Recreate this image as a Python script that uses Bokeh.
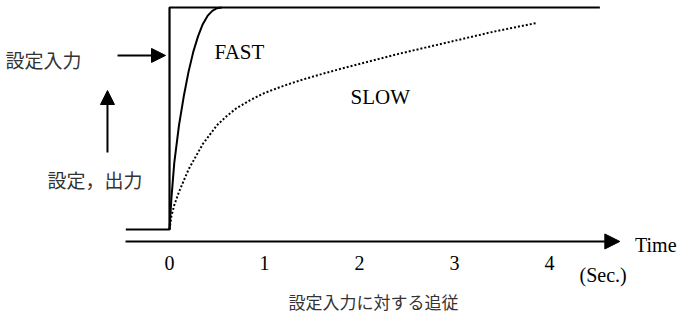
from bokeh.plotting import figure
from bokeh.models import Arrow, NormalHead, Range1d
from bokeh.core.properties import value
from bokeh.embed import file_html
from bokeh.resources import INLINE

# ---- data (time in seconds, response 0..1) ----
input_t = [-0.46, 0.0, 0.0, 4.53]
input_v = [0.0, 0.0, 1.0, 1.0]

fast_t = [0.0, 0.02, 0.05, 0.10, 0.15, 0.20, 0.25, 0.30, 0.35, 0.40, 0.45, 0.50, 0.55]
fast_v = [0.0, 0.14, 0.30, 0.47, 0.60, 0.71, 0.80, 0.87, 0.925, 0.962, 0.985, 0.997, 1.0]

slow_t = [0.0, 0.02, 0.05, 0.10, 0.20, 0.35, 0.50, 0.60, 0.70, 0.85, 1.00, 1.20,
          1.40, 1.65, 1.90, 2.40, 2.90, 3.40, 3.86]
slow_v = [0.0, 0.06, 0.11, 0.17, 0.27, 0.385, 0.47, 0.51, 0.545, 0.583, 0.615, 0.647,
          0.675, 0.706, 0.735, 0.79, 0.84, 0.89, 0.93]

tick_values = [0, 1, 2, 3, 4]
tick_labels = ["0", "1", "2", "3", "4"]

SERIF = value("Liberation Serif")
CJK = value("Noto Sans CJK JP")

p = figure(width=681, height=316, output_backend="svg", toolbar_location=None,
           x_range=Range1d(-1.779, 5.389), y_range=Range1d(-0.392, 1.0315),
           x_axis_location=None, y_axis_location=None, min_border=0,
           outline_line_color=None)
p.xgrid.visible = False
p.ygrid.visible = False

# input step
p.line(input_t, input_v, line_color="black", line_width=2.2)
# fast response
p.line(fast_t, fast_v, line_color="black", line_width=2)
# slow response
p.line(slow_t, slow_v, line_color="black", line_width=2, line_dash="2 2")

# time axis arrow
p.add_layout(Arrow(end=NormalHead(size=15, fill_color="black", line_color="black"),
                   x_start=-0.463, y_start=-0.054, x_end=4.74, y_end=-0.054,
                   line_color="black", line_width=2))
# setpoint arrow
p.add_layout(Arrow(end=NormalHead(size=14, fill_color="black", line_color="black"),
                   x_start=-0.547, y_start=0.784, x_end=-0.042, y_end=0.784,
                   line_color="black", line_width=2))
# up arrow
p.add_layout(Arrow(end=NormalHead(size=14, fill_color="black", line_color="black"),
                   x_start=-0.653, y_start=0.347, x_end=-0.653, y_end=0.626,
                   line_color="black", line_width=2))

# tick labels
p.text(x=tick_values, y=[-0.149] * len(tick_values), text=tick_labels,
       text_font=SERIF, text_font_size="20px", text_align="center",
       text_baseline="middle", text_color="black")

# latin labels
p.text(x=[0.474, 1.905], y=[0.80, 0.599], text=["FAST", "SLOW"],
       text_font=SERIF, text_font_size="21px", text_align="left",
       text_baseline="middle", text_color="black")
p.text(x=[4.90, 4.316], y=[-0.072, -0.203], text=["Time", "(Sec.)"],
       text_font=SERIF, text_font_size="20px", text_align="left",
       text_baseline="middle", text_color="black")

# japanese labels
p.text(x=[-1.726, -1.284], y=[0.766, 0.225], text=["設定入力", "設定，出力"],
       text_font=CJK, text_font_size="19px", text_align="left",
       text_baseline="middle", text_color="#333333")
p.text(x=[2.147], y=[-0.325], text=["設定入力に対する追従"],
       text_font=CJK, text_font_size="17px", text_align="center",
       text_baseline="middle", text_color="#333333")

open("out.html", "w").write(file_html(p, INLINE))
